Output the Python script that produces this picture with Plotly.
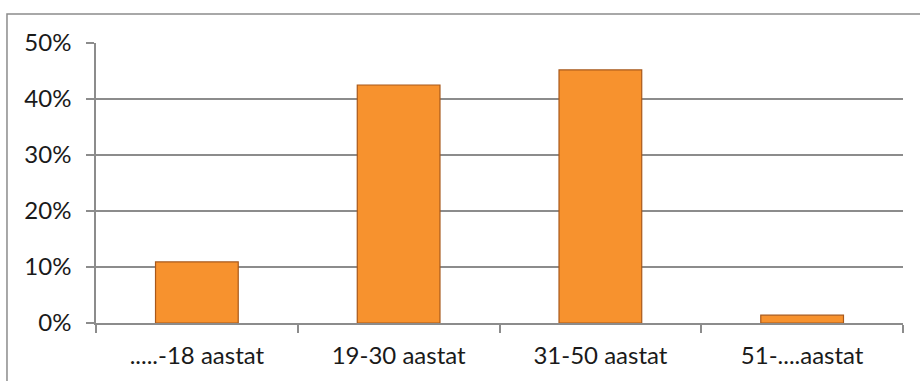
import plotly.graph_objects as go

# Age groups and share of respondents
categories = [".....-18 aastat", "19-30 aastat", "31-50 aastat", "51-....aastat"]
shares = [0.109, 0.425, 0.452, 0.014]
y_ticks = [0, 0.1, 0.2, 0.3, 0.4, 0.5]
y_tick_labels = ["0%", "10%", "20%", "30%", "40%", "50%"]

GRID = "#8c8c8c"
FONT = dict(family="Lato, Open Sans, sans-serif", size=24, color="#1a1a1a")

fig = go.Figure()
fig.add_trace(go.Bar(
    x=categories,
    y=shares,
    marker=dict(color="#F7922E", line=dict(color="#A8581A", width=1.2)),
    width=0.41,
))

fig.update_layout(
    width=920, height=381,
    margin=dict(l=96, r=17, t=43, b=58),
    paper_bgcolor="white",
    plot_bgcolor="white",
    font=FONT,
    showlegend=False,
    xaxis=dict(
        showgrid=False,
        showline=True, linecolor=GRID, linewidth=1.5,
        ticks="outside", tickson="boundaries", ticklen=8, tickcolor=GRID, tickwidth=1.5,
        ticklabelstandoff=10,
        tickfont=FONT,
    ),
    yaxis=dict(
        range=[0, 0.5],
        tickvals=y_ticks, ticktext=y_tick_labels,
        showgrid=True, gridcolor=GRID, gridwidth=1.5,
        showline=True, linecolor=GRID, linewidth=1.5,
        ticks="outside", ticklen=8, tickcolor=GRID, tickwidth=1.5,
        ticklabelstandoff=10,
        zeroline=False,
        tickfont=FONT,
    ),
    shapes=[dict(
        type="rect", xref="paper", yref="paper",
        x0=-0.1103, x1=1.05, y0=-0.3, y1=1.1036,
        line=dict(color="#8c8c8c", width=1.5), fillcolor="rgba(0,0,0,0)",
        layer="below",
    )],
)

fig.write_html("out.html")
